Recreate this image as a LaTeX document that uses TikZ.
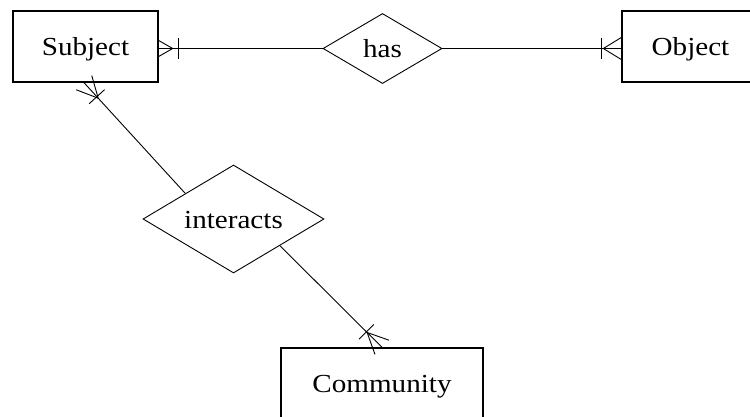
\documentclass[tikz,border=0pt]{standalone}
\usepackage{fontspec}
\newfontfamily\erfont[FakeStretch=1.12]{Liberation Serif}
\usetikzlibrary{shapes.geometric,calc}

% Crow's foot with a crossing bar at the border point #2 of an entity.
% #1 far point of the connector, #3 prong length, #4 prong spread, #5 bar distance
\newcommand{\crowfoot}[5]{%
  \coordinate (cf-tip) at ($(#2)!#3!(#1)$);
  \coordinate (cf-bar) at ($(#2)!#5!(#1)$);
  \draw[connector] ($(#2)!#4!90:(#1)$) -- (cf-tip) -- ($(#2)!#4!-90:(#1)$);
  \draw[connector] ($(cf-bar)!10.5pt!90:(#1)$) -- ($(cf-bar)!10.5pt!-90:(#1)$);
}

\begin{document}
\begin{tikzpicture}[x=1pt,y=-1pt,
  label font/.style={font=\erfont\fontsize{26}{30}\selectfont,text height=18pt,text depth=0pt},
  entity/.style={draw,rectangle,line width=1.4pt,inner sep=0pt,label font},
  relation/.style={draw,diamond,line width=0.9pt,inner sep=0pt,aspect=1.7,label font},
  connector/.style={line width=0.9pt}]
\useasboundingbox (0,0) rectangle (750,416);
\clip (0,0) rectangle (750,416);

% entities
\node[entity,minimum width=145pt,minimum height=71pt] (subj) at (85.5,46.5) {Subject};
\node[entity,minimum width=137pt,minimum height=71pt] (obj) at (690.5,46.5) {Object};
\node[entity,minimum width=202pt,minimum height=70pt] (comm) at (382,383) {Community};

% relationships
\node[relation,minimum width=119pt,minimum height=70pt] (has) at (382.5,48.5) {has};
\node[relation,minimum width=181pt,minimum height=108pt] (inter) at (233.5,219) {interacts};

% connection points
\coordinate (hs) at (has.west -| subj.east);
\coordinate (ho) at (has.east -| obj.west);
\coordinate (is) at ($(inter.west)!0.47!(inter.north)$);
\coordinate (ic) at ($(inter.east)!0.49!(inter.south)$);
\coordinate (sb) at ($(subj.south west)!0.49!(subj.south east)$);
\coordinate (ct) at (comm.north);

% connectors
\draw[connector] (has.west) -- (hs);
\draw[connector] (has.east) -- (ho);
\draw[connector] (is) -- (sb);
\draw[connector] (ic) -- (ct);

% cardinality marks
\crowfoot{has.west}{hs}{14pt}{8pt}{20pt}
\crowfoot{has.east}{ho}{18pt}{11pt}{20pt}
\crowfoot{is}{sb}{21pt}{10.5pt}{19pt}
\crowfoot{ic}{ct}{21pt}{10pt}{22pt}
\end{tikzpicture}
\end{document}
